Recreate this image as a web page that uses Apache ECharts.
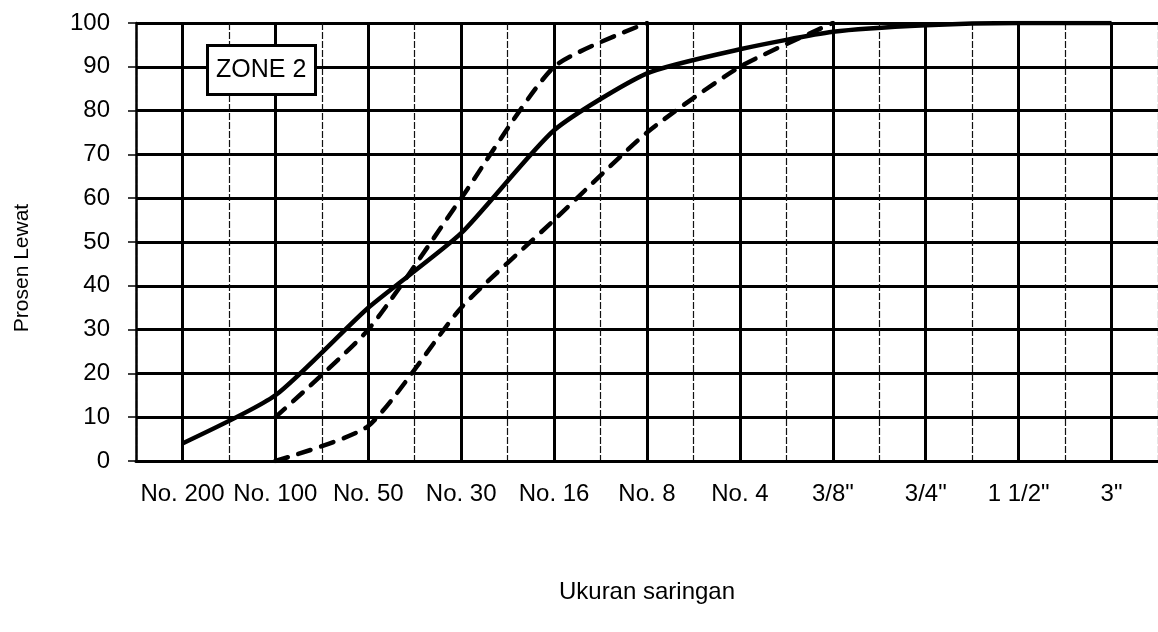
<!DOCTYPE html>
<html>
<head>
<meta charset="utf-8">
<script src="https://cdn.jsdelivr.net/npm/echarts@6/dist/echarts.min.js"></script>
<style>
  html, body { margin: 0; padding: 0; background: #fff; }
  #chart { width: 1158px; height: 632px; }
</style>
</head>
<body>
<div id="chart"></div>
<script>
// ukuran saringan (sieve sizes)
const sieves = ['No. 200', 'No. 100', 'No. 50', 'No. 30', 'No. 16', 'No. 8', 'No. 4', '3/8"', '3/4"', '1 1/2"', '3"']
// prosen lewat - hasil analisa
const passing = [4, 15, 35, 52, 75.5, 88.5, 94, 98, 99.5, 100, 100]
// batas zone 2
const upperLimit = [null, 10, 30, 60, 90, 100, null, null, null, null, null]
const lowerLimit = [null, 0, 8, 35, 55, 75, 90, 100, null, null, null]
const yTicks = { min: 0, max: 100, step: 10 }

const font = '"Liberation Sans", Arial, sans-serif'

const chart = echarts.init(document.getElementById('chart'))

const dashStyle = {
  color: '#000',
  width: 4.5,
  type: [13, 11],
  cap: 'round'
}

const option = {
  animation: false,
  backgroundColor: '#fff',
  title: {
    text: 'ZONE 2',
    left: 207,
    top: 45,
    padding: [12, 9],
    borderColor: '#000',
    borderWidth: 3,
    backgroundColor: '#fff',
    z: 10,
    textStyle: {
      fontFamily: font,
      fontSize: 25,
      fontWeight: 'normal',
      color: '#000',
      lineHeight: 26
    }
  },
  grid: {
    left: 136,
    right: -9,
    top: 23,
    bottom: 171,
    containLabel: false
  },
  graphic: [
    {
      type: 'text',
      x: 22,
      y: 268,
      rotation: Math.PI / 2,
      style: {
        text: 'Prosen Lewat',
        fontFamily: font,
        fontSize: 21,
        fill: '#000',
        textAlign: 'center',
        textVerticalAlign: 'middle'
      }
    }
  ],
  xAxis: {
    type: 'category',
    data: sieves,
    boundaryGap: true,
    name: 'Ukuran saringan',
    nameLocation: 'middle',
    nameGap: 119,
    nameTextStyle: {
      fontFamily: font,
      fontSize: 24,
      color: '#000'
    },
    axisLine: { show: true, lineStyle: { color: '#000', width: 3 } },
    axisTick: { show: false },
    axisLabel: {
      fontFamily: font,
      fontSize: 24,
      color: '#000',
      margin: 21,
      interval: 0
    },
    splitLine: {
      show: true,
      interval: 0,
      lineStyle: { color: '#111', width: 1.2, type: [7, 2] }
    }
  },
  yAxis: {
    type: 'value',
    min: yTicks.min,
    max: yTicks.max,
    interval: yTicks.step,
    axisLine: { show: true, lineStyle: { color: '#000', width: 2.5 } },
    axisTick: { show: true, length: 8, lineStyle: { color: '#000', width: 1.5 } },
    axisLabel: {
      fontFamily: font,
      fontSize: 24,
      color: '#000',
      margin: 26
    },
    splitLine: { show: true, lineStyle: { color: '#000', width: 3 } }
  },
  series: [
    {
      // garis vertikal tebal di tiap ukuran saringan
      name: 'grid',
      type: 'line',
      data: [],
      z: 1,
      silent: true,
      markLine: {
        silent: true,
        symbol: 'none',
        label: { show: false },
        lineStyle: { color: '#000', width: 3, type: 'solid' },
        data: sieves.map(s => ({ xAxis: s }))
      }
    },
    {
      name: 'Batas atas',
      type: 'line',
      data: upperLimit,
      smooth: 0.2,
      showSymbol: false,
      lineStyle: dashStyle,
      z: 3
    },
    {
      name: 'Batas bawah',
      type: 'line',
      data: lowerLimit,
      smooth: 0.2,
      showSymbol: false,
      lineStyle: dashStyle,
      z: 3
    },
    {
      name: 'Hasil',
      type: 'line',
      data: passing,
      smooth: 0.2,
      showSymbol: false,
      lineStyle: { color: '#000', width: 4.5 },
      z: 4
    }
  ]
}

chart.setOption(option)
</script>
</body>
</html>
